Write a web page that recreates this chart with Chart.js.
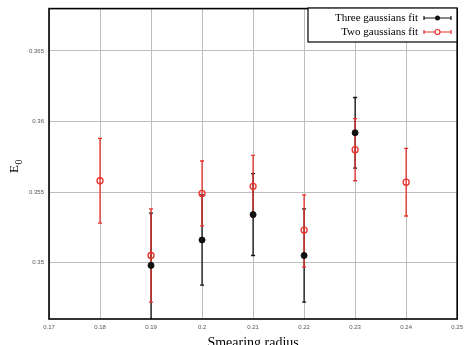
<!DOCTYPE html>
<html>
<head>
<meta charset="utf-8">
<script src="https://cdn.jsdelivr.net/npm/chart.js@4"></script>
<style>
  body { margin: 0; background: #fff; }
  #wrap { width: 468px; height: 345px; }
</style>
</head>
<body>
<div id="wrap"><canvas id="myChart"></canvas></div>
<script>
// data
const radius = [0.18, 0.19, 0.20, 0.21, 0.22, 0.23, 0.24]

const threeVal  = [null, 0.3498, 0.3516, 0.3534, 0.3505, 0.3592, null]
const threeLow  = [null, 0.3459, 0.3484, 0.3505, 0.3472, 0.3567, null]
const threeHigh = [null, 0.3535, 0.3548, 0.3563, 0.3538, 0.3617, null]

const twoVal  = [0.3558, 0.3505, 0.3549, 0.3554, 0.3523, 0.3580, 0.3557]
const twoLow  = [0.3528, 0.3472, 0.3526, 0.3532, 0.3497, 0.3558, 0.3533]
const twoHigh = [0.3588, 0.3538, 0.3572, 0.3576, 0.3548, 0.3602, 0.3581]

const xTicks = [0.17, 0.18, 0.19, 0.20, 0.21, 0.22, 0.23, 0.24, 0.25]
const yTicks = [0.35, 0.355, 0.36, 0.365]

const blackCol = '#111111'
const redCol = '#e8302a'
const serif = '"Liberation Serif", "DejaVu Serif", serif'

function points(vals) {
  return radius.map((r, i) => vals[i] == null ? null : { x: r, y: vals[i] }).filter(p => p)
}

// error bars drawn through the chart scales
const errorBars = {
  id: 'errorBars',
  beforeDatasetsDraw(chart) {
    const { ctx, chartArea, scales: { x, y } } = chart
    const sets = [
      [threeLow, threeHigh, blackCol],
      [twoLow, twoHigh, redCol],
    ]
    ctx.save()
    ctx.beginPath()
    ctx.rect(chartArea.left, chartArea.top, chartArea.right - chartArea.left, chartArea.bottom - chartArea.top)
    ctx.clip()
    sets.forEach(([lo, hi, col]) => {
      ctx.strokeStyle = col
      ctx.lineWidth = 1.3
      radius.forEach((r, i) => {
        if (lo[i] == null) return
        const px = x.getPixelForValue(r)
        const y1 = y.getPixelForValue(lo[i])
        const y2 = y.getPixelForValue(hi[i])
        ctx.beginPath()
        ctx.moveTo(px, y1); ctx.lineTo(px, y2)
        ctx.moveTo(px - 2, y1); ctx.lineTo(px + 2, y1)
        ctx.moveTo(px - 2, y2); ctx.lineTo(px + 2, y2)
        ctx.stroke()
      })
    })
    ctx.restore()
  },
  afterDraw(chart) {
    const { ctx, chartArea } = chart
    ctx.save()
    // frame
    ctx.strokeStyle = '#000'
    ctx.lineWidth = 1.6
    ctx.strokeRect(chartArea.left, chartArea.top, chartArea.right - chartArea.left, chartArea.bottom - chartArea.top)

    // y axis title E_0
    ctx.save()
    ctx.translate(18, 173)
    ctx.rotate(-Math.PI / 2)
    ctx.fillStyle = '#000'
    ctx.textBaseline = 'alphabetic'
    ctx.textAlign = 'left'
    ctx.font = '13px ' + serif
    ctx.fillText('E', 0, 0)
    ctx.font = '10px ' + serif
    ctx.fillText('0', 8.5, 4)
    ctx.restore()

    // legend box
    const bx = 308, by = 8, bw = 149, bh = 34
    ctx.fillStyle = '#fff'
    ctx.fillRect(bx, by, bw, bh)
    ctx.lineWidth = 1.2
    ctx.strokeRect(bx, by, bw, bh)

    const items = [
      ['Three gaussians fit', blackCol, true],
      ['Two gaussians fit', redCol, false],
    ]
    ctx.font = '11px ' + serif
    ctx.textAlign = 'right'
    ctx.textBaseline = 'middle'
    items.forEach(([label, col, filled], i) => {
      const ly = 18 + i * 14
      ctx.fillStyle = '#000'
      ctx.fillText(label, 418, ly)
      ctx.strokeStyle = col
      ctx.lineWidth = 1.2
      ctx.beginPath()
      ctx.moveTo(424, ly); ctx.lineTo(451, ly)
      ctx.moveTo(424, ly - 2); ctx.lineTo(424, ly + 2)
      ctx.moveTo(451, ly - 2); ctx.lineTo(451, ly + 2)
      ctx.stroke()
      ctx.beginPath()
      ctx.arc(437.5, ly, 2.5, 0, Math.PI * 2)
      if (filled) { ctx.fillStyle = col; ctx.fill() }
      else { ctx.fillStyle = '#fff'; ctx.fill(); ctx.stroke() }
    })
    ctx.restore()
  }
}

const ctx = document.getElementById('myChart').getContext('2d')
const myChart = new Chart(ctx, {
  type: 'scatter',
  data: {
    datasets: [{
      label: 'Three gaussians fit',
      data: points(threeVal),
      backgroundColor: blackCol,
      borderColor: blackCol,
      pointRadius: 3,
      borderWidth: 1,
    },
    {
      label: 'Two gaussians fit',
      data: points(twoVal),
      backgroundColor: 'rgba(255,255,255,0)',
      borderColor: redCol,
      pointRadius: 3,
      borderWidth: 1.3,
    }]
  },
  options: {
    animation: false,
    responsive: true,
    maintainAspectRatio: false,
    layout: { padding: { top: 7, right: 9, left: 0, bottom: 0 } },
    plugins: {
      legend: { display: false },
      tooltip: { enabled: false },
    },
    scales: {
      x: {
        type: 'linear',
        min: 0.17,
        max: 0.25,
        afterBuildTicks: s => { s.ticks = xTicks.map(v => ({ value: v })) },
        afterFit: s => { s.height = 26 },
        grid: { color: '#bdbdbd', lineWidth: 1, drawTicks: false },
        border: { display: false },
        ticks: {
          padding: 5,
          color: '#555',
          font: { size: 6, family: '"Liberation Sans", Arial, sans-serif' },
          callback: v => String(+v.toFixed(2)),
        },
        title: {
          display: true,
          text: 'Smearing radius',
          color: '#000',
          padding: { top: 0, bottom: -7 },
          font: { size: 14, family: serif },
        },
      },
      y: {
        min: 0.346,
        max: 0.368,
        afterBuildTicks: s => { s.ticks = yTicks.map(v => ({ value: v })) },
        afterFit: s => { s.width = 49 },
        grid: { color: '#bdbdbd', lineWidth: 1, drawTicks: false },
        border: { display: false },
        ticks: {
          padding: 5,
          color: '#555',
          font: { size: 6, family: '"Liberation Sans", Arial, sans-serif' },
          callback: v => String(+v.toFixed(3)),
        },
        title: { display: false },
      },
    },
  },
  plugins: [errorBars],
})
</script>
</body>
</html>
